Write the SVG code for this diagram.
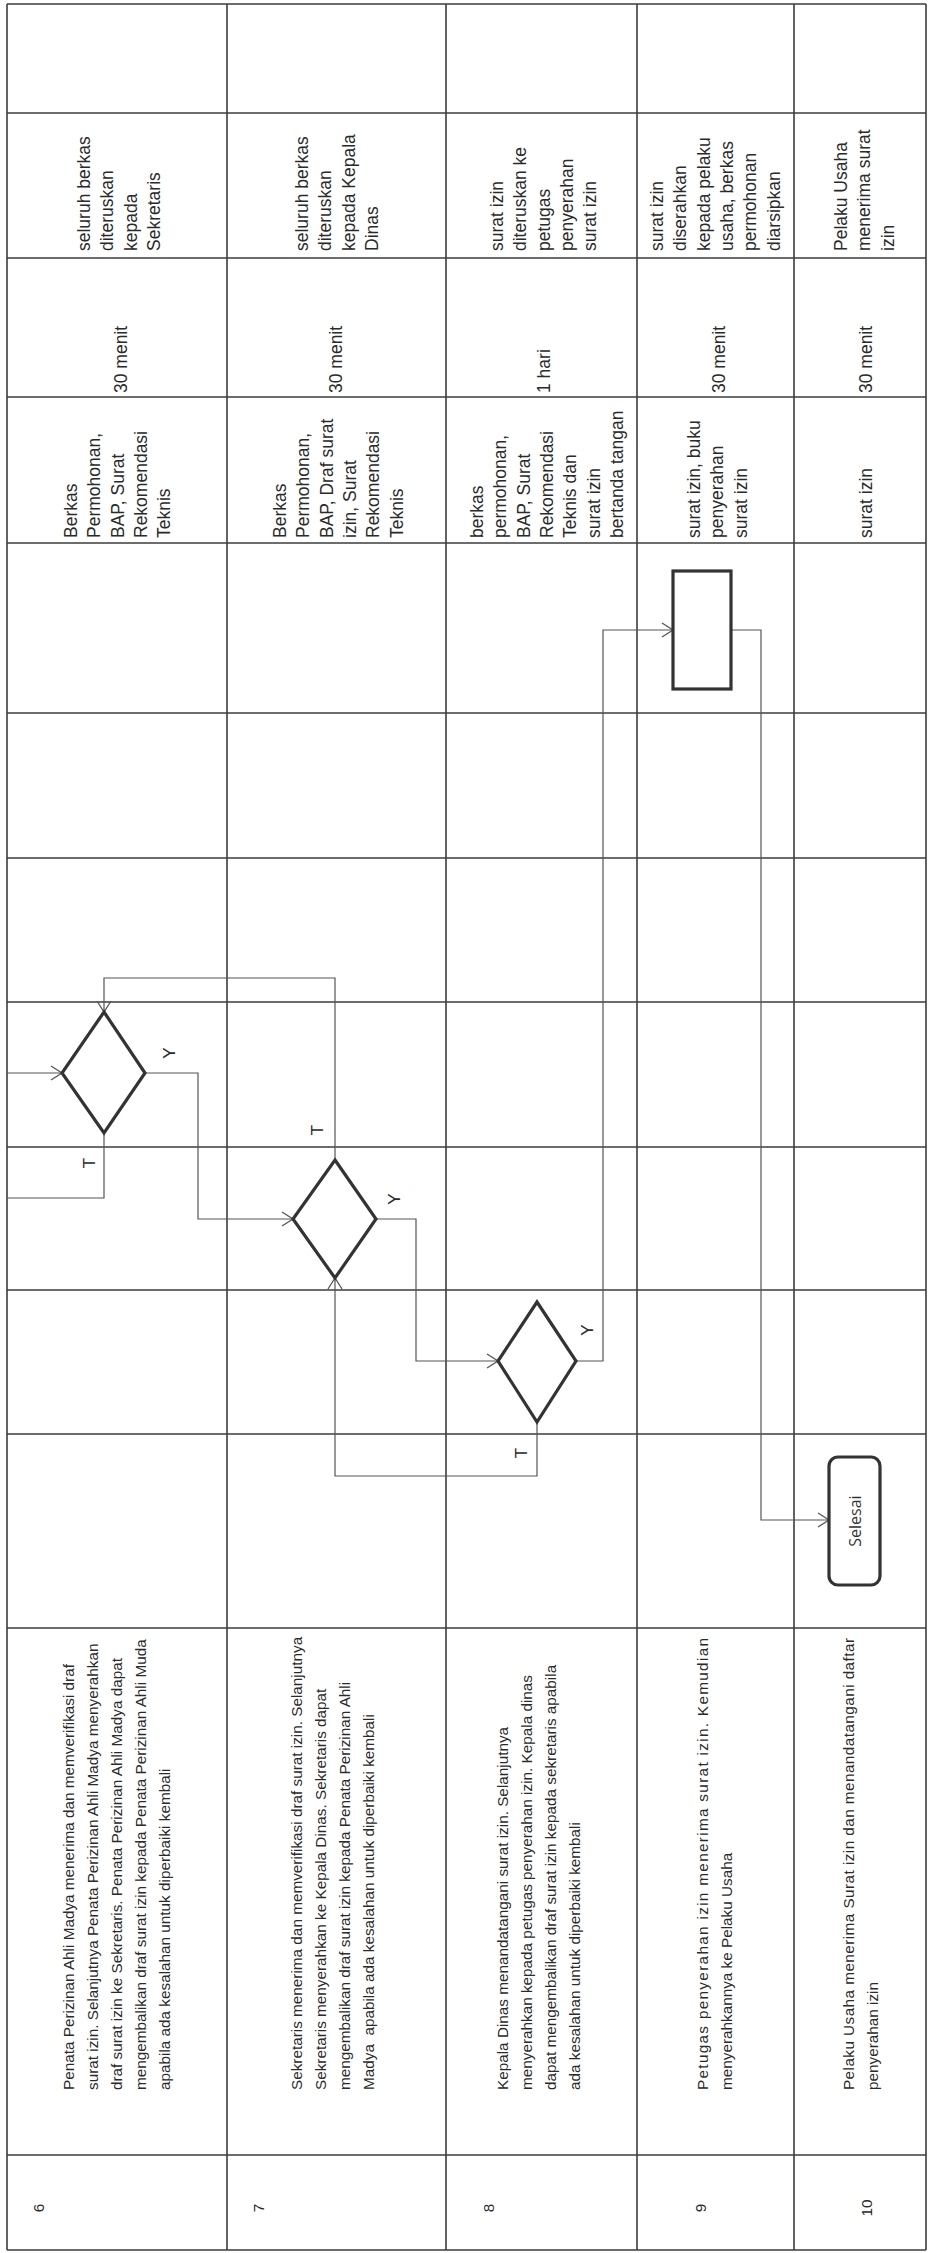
<svg xmlns="http://www.w3.org/2000/svg" width="929" height="2253" viewBox="0 0 929 2253">
<defs>
<style>
.t{font-family:"Liberation Sans",Arial,sans-serif;font-size:17.5px;fill:#2a2a2a}
.k{font-family:"Liberation Sans",Arial,sans-serif;font-size:15.3px;fill:#2a2a2a}
.lbl{font-family:"Liberation Sans",Arial,sans-serif;font-size:17px;fill:#2a2a2a;text-anchor:middle}
.grid line{stroke:#3c3c3c;stroke-width:1.6}
.c{fill:none;stroke:#555;stroke-width:1.2}
.shape{fill:#fff;stroke:#333;stroke-width:3.2}
</style>
<marker id="ah" markerWidth="14" markerHeight="16" refX="12" refY="8" orient="auto" markerUnits="userSpaceOnUse">
<path d="M1,1 L12,8 L1,15" fill="none" stroke="#555" stroke-width="1.3"/>
</marker>
</defs>
<rect width="929" height="2253" fill="#fff"/>

<g id="table" class="grid">
<line x1="7" y1="4" x2="7" y2="2250"/>
<line x1="227" y1="4" x2="227" y2="2250"/>
<line x1="446" y1="4" x2="446" y2="2250"/>
<line x1="637" y1="4" x2="637" y2="2250"/>
<line x1="794" y1="4" x2="794" y2="2250"/>
<line x1="926" y1="4" x2="926" y2="2250"/>
<line x1="7" y1="4" x2="926" y2="4"/>
<line x1="7" y1="113" x2="926" y2="113"/>
<line x1="7" y1="258" x2="926" y2="258"/>
<line x1="7" y1="397" x2="926" y2="397"/>
<line x1="7" y1="543" x2="926" y2="543"/>
<line x1="7" y1="713" x2="926" y2="713"/>
<line x1="7" y1="858" x2="926" y2="858"/>
<line x1="7" y1="1002" x2="926" y2="1002"/>
<line x1="7" y1="1147" x2="926" y2="1147"/>
<line x1="7" y1="1290" x2="926" y2="1290"/>
<line x1="7" y1="1434" x2="926" y2="1434"/>
<line x1="7" y1="1628" x2="926" y2="1628"/>
<line x1="7" y1="2155" x2="926" y2="2155"/>
<line x1="7" y1="2250" x2="926" y2="2250"/>
</g>

<g id="connectors">
<polyline class="c" points="7,1073 62,1073" marker-end="url(#ah)"/>
<polyline class="c" points="145,1073 198,1073 198,1219 293,1219" marker-end="url(#ah)"/>
<polyline class="c" points="104,1133 104,1198 7,1198"/>
<polyline class="c" points="335,1160 335,978 104,978 104,1012" marker-end="url(#ah)"/>
<polyline class="c" points="376,1219 416,1219 416,1361 498,1361" marker-end="url(#ah)"/>
<polyline class="c" points="537,1422 537,1476 335,1476 335,1278" marker-end="url(#ah)"/>
<polyline class="c" points="576,1361 603,1361 603,630 673,630" marker-end="url(#ah)"/>
<polyline class="c" points="731,630 761,630 761,1520 829,1520" marker-end="url(#ah)"/>
<text class="lbl" transform="translate(169,1053) rotate(-90)" dy="6">Y</text>
<text class="lbl" transform="translate(89,1163) rotate(-90)" dy="6">T</text>
<text class="lbl" transform="translate(317,1130) rotate(-90)" dy="6">T</text>
<text class="lbl" transform="translate(394,1199) rotate(-90)" dy="6">Y</text>
<text class="lbl" transform="translate(587,1330) rotate(-90)" dy="6">Y</text>
<text class="lbl" transform="translate(521,1453) rotate(-90)" dy="6">T</text>
</g>

<g id="decision-6"><polygon class="shape" points="104,1012 145,1073 104,1133 62,1073"/></g>
<g id="decision-7"><polygon class="shape" points="335,1160 376,1219 335,1278 293,1219"/></g>
<g id="decision-8"><polygon class="shape" points="537,1302 576,1361 537,1422 498,1361"/></g>
<g id="process-9"><rect class="shape" x="673" y="571" width="58" height="118"/></g>
<g id="end-selesai">
<rect class="shape" x="829" y="1457" width="51" height="128" rx="9"/>
<text transform="translate(855,1521) rotate(-90)" text-anchor="middle" dy="6" style="font-family:'Open Sans','Liberation Sans',sans-serif;font-size:16px;fill:#333">Selesai</text>
</g>

<g id="row-6">
<text class="k" transform="translate(38,2208) rotate(-90)" text-anchor="middle" dy="6">6</text>
<text class="k" transform="translate(74,2090) rotate(-90)"><tspan x="0" y="0">Penata Perizinan Ahli Madya menerima dan memverifikasi draf</tspan><tspan x="0" y="24">surat izin. Selanjutnya Penata Perizinan Ahli Madya menyerahkan</tspan><tspan x="0" y="48">draf surat izin ke Sekretaris. Penata Perizinan Ahli Madya dapat</tspan><tspan x="0" y="72">mengembalikan draf surat izin kepada Penata Perizinan Ahli Muda</tspan><tspan x="0" y="96">apabila ada kesalahan untuk diperbaiki kembali</tspan></text>
<text class="t" transform="translate(77,538) rotate(-90)"><tspan x="0" y="0">Berkas</tspan><tspan x="0" y="23.3">Permohonan,</tspan><tspan x="0" y="46.6">BAP, Surat</tspan><tspan x="0" y="69.9">Rekomendasi</tspan><tspan x="0" y="93.2">Teknis</tspan></text>
<text class="t" transform="translate(127,393) rotate(-90)">30 menit</text>
<text class="t" transform="translate(90,251) rotate(-90)"><tspan x="0" y="0">seluruh berkas</tspan><tspan x="0" y="23.3">diteruskan</tspan><tspan x="0" y="46.6">kepada</tspan><tspan x="0" y="69.9">Sekretaris</tspan></text>
</g>

<g id="row-7">
<text class="k" transform="translate(258,2208) rotate(-90)" text-anchor="middle" dy="6">7</text>
<text class="k" transform="translate(302,2090) rotate(-90)" xml:space="preserve"><tspan x="0" y="0">Sekretaris menerima dan memverifikasi draf surat izin. Selanjutnya</tspan><tspan x="0" y="24">Sekretaris menyerahkan ke Kepala Dinas. Sekretaris dapat</tspan><tspan x="0" y="48">mengembalikan draf surat izin kepada Penata Perizinan Ahli</tspan><tspan x="0" y="72">Madya  apabila ada kesalahan untuk diperbaiki kembali</tspan></text>
<text class="t" transform="translate(286,538) rotate(-90)"><tspan x="0" y="0">Berkas</tspan><tspan x="0" y="23.3">Permohonan,</tspan><tspan x="0" y="46.6">BAP, Draf surat</tspan><tspan x="0" y="69.9">izin, Surat</tspan><tspan x="0" y="93.2">Rekomendasi</tspan><tspan x="0" y="116.5">Teknis</tspan></text>
<text class="t" transform="translate(342,393) rotate(-90)">30 menit</text>
<text class="t" transform="translate(308,251) rotate(-90)"><tspan x="0" y="0">seluruh berkas</tspan><tspan x="0" y="23.3">diteruskan</tspan><tspan x="0" y="46.6">kepada Kepala</tspan><tspan x="0" y="69.9">Dinas</tspan></text>
</g>

<g id="row-8">
<text class="k" transform="translate(488,2208) rotate(-90)" text-anchor="middle" dy="6">8</text>
<text class="k" transform="translate(508,2090) rotate(-90)"><tspan x="0" y="0">Kepala Dinas menandatangani surat izin. Selanjutnya</tspan><tspan x="0" y="24">menyerahkan kepada petugas penyerahan izin. Kepala dinas</tspan><tspan x="0" y="48">dapat mengembalikan draf surat izin kepada sekretaris apabila</tspan><tspan x="0" y="72">ada kesalahan untuk diperbaiki kembali</tspan></text>
<text class="t" transform="translate(483,538) rotate(-90)"><tspan x="0" y="0">berkas</tspan><tspan x="0" y="23.3">permohonan,</tspan><tspan x="0" y="46.6">BAP, Surat</tspan><tspan x="0" y="69.9">Rekomendasi</tspan><tspan x="0" y="93.2">Teknis dan</tspan><tspan x="0" y="116.5">surat izin</tspan><tspan x="0" y="139.8">bertanda tangan</tspan></text>
<text class="t" transform="translate(550,393) rotate(-90)">1 hari</text>
<text class="t" transform="translate(503,251) rotate(-90)"><tspan x="0" y="0">surat izin</tspan><tspan x="0" y="23.3">diteruskan ke</tspan><tspan x="0" y="46.6">petugas</tspan><tspan x="0" y="69.9">penyerahan</tspan><tspan x="0" y="93.2">surat izin</tspan></text>
</g>

<g id="row-9">
<text class="k" transform="translate(700,2208) rotate(-90)" text-anchor="middle" dy="6">9</text>
<text class="k" transform="translate(708,2090) rotate(-90)" textLength="452" lengthAdjust="spacing">Petugas penyerahan izin menerima surat izin. Kemudian</text>
<text class="k" transform="translate(732,2090) rotate(-90)">menyerahkannya ke Pelaku Usaha</text>
<text class="t" transform="translate(700,538) rotate(-90)"><tspan x="0" y="0">surat izin, buku</tspan><tspan x="0" y="23.3">penyerahan</tspan><tspan x="0" y="46.6">surat izin</tspan></text>
<text class="t" transform="translate(725,393) rotate(-90)">30 menit</text>
<text class="t" transform="translate(663,251) rotate(-90)"><tspan x="0" y="0">surat izin</tspan><tspan x="0" y="23.3">diserahkan</tspan><tspan x="0" y="46.6">kepada pelaku</tspan><tspan x="0" y="69.9">usaha, berkas</tspan><tspan x="0" y="93.2">permohonan</tspan><tspan x="0" y="116.5">diarsipkan</tspan></text>
</g>

<g id="row-10">
<text class="k" transform="translate(866,2208) rotate(-90)" text-anchor="middle" dy="6">10</text>
<text class="k" transform="translate(854,2090) rotate(-90)" textLength="452" lengthAdjust="spacing">Pelaku Usaha menerima Surat izin dan menandatangani daftar</text>
<text class="k" transform="translate(878,2090) rotate(-90)">penyerahan izin</text>
<text class="t" transform="translate(872,538) rotate(-90)">surat izin</text>
<text class="t" transform="translate(872,393) rotate(-90)">30 menit</text>
<text class="t" transform="translate(847,251) rotate(-90)"><tspan x="0" y="0">Pelaku Usaha</tspan><tspan x="0" y="23.3">menerima surat</tspan><tspan x="0" y="46.6">izin</tspan></text>
</g>
</svg>
